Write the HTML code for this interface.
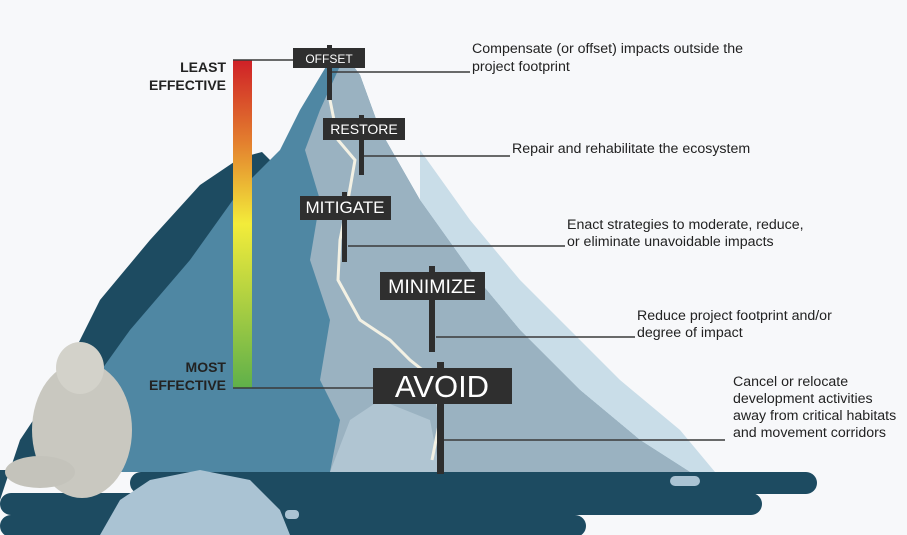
<!DOCTYPE html>
<html><head><meta charset="utf-8"><style>
html,body{margin:0;padding:0;background:#f7f8fa;}
svg{display:block;font-family:"Liberation Sans",sans-serif;}
</style></head><body>
<svg width="907" height="535" viewBox="0 0 907 535" xmlns="http://www.w3.org/2000/svg">
<rect width="907" height="535" fill="#f7f8fa"/>
<!-- dark back mountain -->
<path d="M0,500 L20,440 L60,380 L100,300 L150,240 L200,185 L240,158 L262,152 L275,165 L300,150 L320,470 L0,470 Z" fill="#1d4b61"/>
<!-- main medium mountain -->
<path d="M40,470 L80,400 L130,330 L190,260 L240,190 L280,150 L300,110 L330,60 L345,55 L360,75 L380,130 L420,200 L470,270 L520,330 L580,390 L640,440 L690,472 L40,472 Z" fill="#4f87a3"/>
<!-- lighter fringe -->
<path d="M420,150 L470,220 L520,280 L570,330 L620,380 L680,430 L715,472 L690,472 L640,440 L580,390 L520,330 L470,270 L420,200 Z" fill="#c9dde8"/>
<!-- light right face -->
<path d="M345,55 L360,75 L380,130 L420,200 L470,270 L520,330 L580,390 L640,440 L690,472 L330,472 L340,420 L320,380 L330,320 L310,260 L320,200 L305,150 L320,110 Z" fill="#9ab2c1"/>
<path d="M330,472 L350,420 L380,400 L430,420 L440,472 Z" fill="#b9cdd9" opacity="0.7"/>
<!-- snow ridge line -->
<path d="M330,100 L338,140 L355,160 L348,200 L340,240 L338,280 L360,320 L390,340 L410,360 L435,380 L440,420 L432,460" stroke="#f3f1e4" stroke-width="3" fill="none"/>
<!-- ground bands -->
<rect x="130" y="472" width="687" height="22" rx="11" fill="#1d4b61"/>
<rect x="0" y="493" width="762" height="22" rx="11" fill="#1d4b61"/>
<rect x="0" y="515" width="586" height="22" rx="11" fill="#1d4b61"/>
<path d="M100,535 L120,500 L150,480 L200,470 L250,480 L280,510 L290,535 Z" fill="#aac3d3"/>
<rect x="670" y="476" width="30" height="10" rx="5" fill="#aac3d3"/>
<rect x="285" y="510" width="14" height="9" rx="4" fill="#aac3d3"/>
<!-- snow leopard approx -->
<ellipse cx="82" cy="430" rx="50" ry="68" fill="#c9c8c0"/>
<ellipse cx="80" cy="368" rx="24" ry="26" fill="#d3d2ca"/>
<ellipse cx="40" cy="472" rx="35" ry="16" fill="#c4c3bb"/>
<!-- gradient bar -->
<defs><linearGradient id="g" x1="0" y1="0" x2="0" y2="1">
<stop offset="0" stop-color="#cf2027"/><stop offset="0.25" stop-color="#e37f2e"/>
<stop offset="0.5" stop-color="#f3ec3a"/><stop offset="1" stop-color="#5fb04a"/></linearGradient></defs>
<rect x="233" y="60" width="19" height="328" fill="url(#g)"/>
<line x1="233" y1="60" x2="295" y2="60" stroke="#3a3a3a" stroke-width="1.5"/>
<line x1="233" y1="388" x2="375" y2="388" stroke="#3a3a3a" stroke-width="1.5"/>
<g font-weight="bold" font-size="14" fill="#222" text-anchor="end">
<text x="226" y="72">LEAST</text><text x="226" y="90">EFFECTIVE</text>
<text x="226" y="372">MOST</text><text x="226" y="390">EFFECTIVE</text>
</g>
<!-- connectors -->
<g stroke="#3a3a3a" stroke-width="1.5">
<line x1="330" y1="72" x2="470" y2="72"/>
<line x1="362" y1="156" x2="510" y2="156"/>
<line x1="348" y1="246" x2="565" y2="246"/>
<line x1="436" y1="337" x2="635" y2="337"/>
<line x1="442" y1="440" x2="725" y2="440"/>
</g>
<!-- poles -->
<g fill="#2e2e2e">
<rect x="327" y="45" width="5" height="55"/>
<rect x="359" y="115" width="5" height="60"/>
<rect x="342" y="192" width="5" height="70"/>
<rect x="429" y="266" width="6" height="86"/>
<rect x="437" y="362" width="7" height="112"/>
</g>
<!-- signs -->
<g fill="#2f2f2f">
<rect x="293" y="48" width="72" height="20"/>
<rect x="323" y="118" width="82" height="22"/>
<rect x="300" y="196" width="91" height="24"/>
<rect x="380" y="272" width="105" height="28"/>
<rect x="373" y="368" width="139" height="36"/>
</g>
<g fill="#fff" text-anchor="middle">
<text x="329" y="63" font-size="12">OFFSET</text>
<text x="364" y="134" font-size="14">RESTORE</text>
<text x="345" y="213" font-size="17">MITIGATE</text>
<text x="432" y="293" font-size="19.5">MINIMIZE</text>
<text x="442" y="397" font-size="31">AVOID</text>
</g>
<g font-size="14.2" fill="#222">
<text x="472" y="53">Compensate (or offset) impacts outside the</text>
<text x="472" y="71">project footprint</text>
<text x="512" y="153">Repair and rehabilitate the ecosystem</text>
<text x="567" y="229">Enact strategies to moderate, reduce,</text>
<text x="567" y="246">or eliminate unavoidable impacts</text>
<text x="637" y="320">Reduce project footprint and/or</text>
<text x="637" y="337">degree of impact</text>
<text x="733" y="386">Cancel or relocate</text>
<text x="733" y="403">development activities</text>
<text x="733" y="420">away from critical habitats</text>
<text x="733" y="437">and movement corridors</text>
</g>
</svg>
</body></html>
